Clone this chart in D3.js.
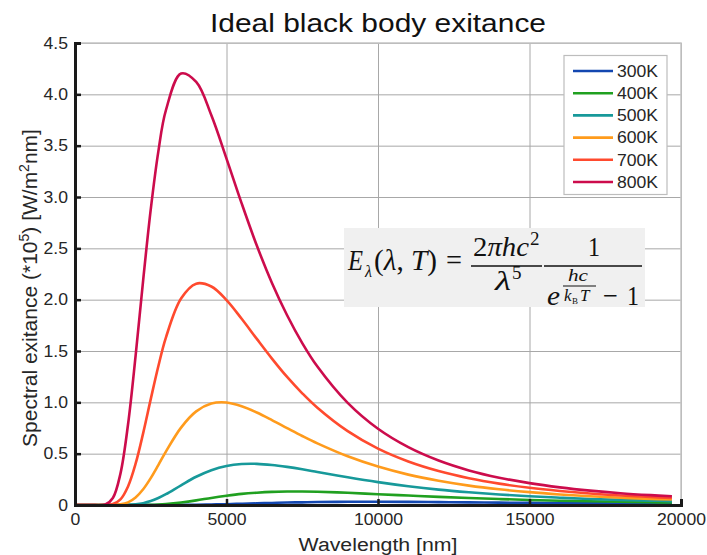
<!DOCTYPE html>
<html>
<head>
<meta charset="utf-8">
<script src="https://cdn.jsdelivr.net/npm/d3@7"></script>
<style>
  body { margin: 0; background: #fff; }
  svg text { font-family: "Liberation Sans", Arial, sans-serif; fill: #262626; }
  .grid line { stroke: #a8a8a8; stroke-width: 1; }
  .grid path { display: none; }
  .axis path { stroke: #1a1a1a; stroke-width: 3; }
  .axis line { stroke: #1a1a1a; stroke-width: 2.5; }
  .math text { font-family: "Liberation Serif", "DejaVu Serif", serif; fill: #111; }
</style>
</head>
<body>
<svg id="chart" width="707" height="555"></svg>
<script>
// 波長のサンプル点 [nm]
const wavelengths = [0, 500, 1000, 1250, 1500, 1750, 2000, 2250, 2500, 2750, 3000,
  3500, 4000, 4500, 5000, 5500, 6000, 6500, 7000, 7500, 8000,
  9000, 10000, 11000, 12000, 13000, 14000, 15000, 16000, 17000, 18000, 19000, 19700];

// 各温度の放射発散度
const exitance300 = [0, 0, 0, 0, 0, 0, 0, 0, 0, 0, 0,
  0.001, 0.002, 0.005, 0.008, 0.012, 0.016, 0.020, 0.024, 0.026, 0.029,
  0.031, 0.031, 0.030, 0.028, 0.026, 0.023, 0.021, 0.019, 0.017, 0.015, 0.013, 0.012];
const exitance400 = [0, 0, 0, 0, 0, 0, 0, 0.001, 0.002, 0.005, 0.010,
  0.025, 0.045, 0.069, 0.090, 0.108, 0.120, 0.128, 0.131, 0.131, 0.129,
  0.119, 0.105, 0.092, 0.079, 0.068, 0.058, 0.049, 0.042, 0.036, 0.031, 0.027, 0.024];
const exitance500 = [0, 0, 0, 0, 0, 0.002, 0.007, 0.018, 0.038, 0.068, 0.105,
  0.192, 0.275, 0.339, 0.380, 0.399, 0.401, 0.390, 0.371, 0.348, 0.322,
  0.270, 0.223, 0.183, 0.150, 0.124, 0.102, 0.085, 0.071, 0.059, 0.050, 0.043, 0.038];
const exitance600 = [0, 0, 0, 0, 0.006, 0.026, 0.073, 0.153, 0.262, 0.389, 0.520,
  0.754, 0.912, 0.988, 0.998, 0.962, 0.901, 0.827, 0.749, 0.672, 0.600,
  0.474, 0.374, 0.296, 0.236, 0.189, 0.153, 0.125, 0.103, 0.085, 0.071, 0.060, 0.053];
const exitance700 = [0, 0, 0, 0.009, 0.055, 0.181, 0.402, 0.700, 1.031, 1.351, 1.631,
  2.011, 2.156, 2.128, 1.996, 1.814, 1.618, 1.426, 1.247, 1.088, 0.947,
  0.719, 0.549, 0.424, 0.331, 0.261, 0.208, 0.168, 0.137, 0.112, 0.093, 0.078, 0.069];
const exitance800 = [0, 0, 0.006, 0.069, 0.306, 0.784, 1.453, 2.191, 2.879, 3.442, 3.845,
  4.203, 4.121, 3.796, 3.374, 2.938, 2.527, 2.163, 1.848, 1.577, 1.348,
  0.994, 0.742, 0.563, 0.433, 0.337, 0.266, 0.213, 0.172, 0.140, 0.115, 0.096, 0.085];

const seriesNames = ["300K", "400K", "500K", "600K", "700K", "800K"];
const seriesValues = [exitance300, exitance400, exitance500, exitance600, exitance700, exitance800];
const seriesColors = ["#1347b0", "#20a020", "#17999a", "#ff9b1c", "#ff4a2e", "#cc0c4c"];

// 目盛り
const xTicks = [0, 5000, 10000, 15000, 20000];
const xTickLabels = ["0", "5000", "10000", "15000", "20000"];
const yTicks = [0, 0.5, 1, 1.5, 2, 2.5, 3, 3.5, 4, 4.5];
const yTickLabels = ["0", "0.5", "1.0", "1.5", "2.0", "2.5", "3.0", "3.5", "4.0", "4.5"];

const svg = d3.select("#chart");
const plotLeft = 75, plotTop = 43, plotRight = 681, plotBottom = 505;
const plotW = plotRight - plotLeft, plotH = plotBottom - plotTop;
const stretch = 1.1; // 元画像は文字が少し横長

const x = d3.scaleLinear().domain([0, 20000]).range([plotLeft, plotRight]);
const y = d3.scaleLinear().domain([0, 4.5]).range([plotBottom, plotTop]);

// タイトル
svg.append("text")
  .attr("x", (plotLeft + plotRight) / 2).attr("y", 32)
  .attr("text-anchor", "middle")
  .attr("font-size", 26)
  .attr("textLength", 336).attr("lengthAdjust", "spacingAndGlyphs")
  .style("fill", "#111")
  .text("Ideal black body exitance");

// 罫線
svg.append("g").attr("class", "grid")
  .attr("transform", `translate(0,${plotBottom})`)
  .call(d3.axisBottom(x).tickValues(xTicks).tickSize(-plotH).tickFormat(""));
svg.append("g").attr("class", "grid")
  .attr("transform", `translate(${plotLeft},0)`)
  .call(d3.axisLeft(y).tickValues(yTicks).tickSize(-plotW).tickFormat(""));

// 上と右の枠
svg.append("path")
  .attr("d", `M${plotLeft},${plotTop}H${plotRight}V${plotBottom}`)
  .attr("fill", "none").attr("stroke", "#c4c4c4").attr("stroke-width", 1.5);

// 折れ線
svg.append("clipPath").attr("id", "plot-clip")
  .append("rect").attr("x", plotLeft).attr("y", plotTop - 2)
  .attr("width", plotW).attr("height", plotH + 2);

const lineFunc = d3.line()
  .x((d, i) => x(wavelengths[i]))
  .y(d => y(d))
  .curve(d3.curveCatmullRom.alpha(0.5));

svg.append("g").attr("clip-path", "url(#plot-clip)")
  .selectAll("path")
  .data(seriesValues)
  .join("path")
  .attr("d", lineFunc)
  .attr("fill", "none")
  .attr("stroke", (d, i) => seriesColors[i])
  .attr("stroke-width", 2.6)
  .attr("stroke-linejoin", "round");

// 軸
const xAxis = svg.append("g").attr("class", "axis")
  .attr("transform", `translate(0,${plotBottom})`)
  .call(d3.axisBottom(x).tickValues(xTicks).tickSize(-6).tickSizeOuter(-6).tickPadding(9)
    .tickFormat((d, i) => xTickLabels[i]));
const yAxis = svg.append("g").attr("class", "axis")
  .attr("transform", `translate(${plotLeft},0)`)
  .call(d3.axisLeft(y).tickValues(yTicks).tickSize(-6).tickSizeOuter(-6).tickPadding(7)
    .tickFormat((d, i) => yTickLabels[i]));
[xAxis, yAxis].forEach(ax => {
  ax.selectAll("text")
    .attr("font-size", 16)
    .style("font-family", '"Liberation Sans", Arial, sans-serif')
    .style("fill", "#262626")
    .attr("transform", `scale(${stretch},1)`);
});
yAxis.selectAll(".tick text").attr("x", -7 / stretch);

// 軸ラベル
svg.append("text")
  .attr("transform", `translate(${(plotLeft + plotRight) / 2},551) scale(1.12,1)`)
  .attr("text-anchor", "middle")
  .attr("font-size", 19)
  .text("Wavelength [nm]");

const yLabel = svg.append("text")
  .attr("transform", `translate(37,${(plotTop + plotBottom) / 2 + 14}) rotate(-90)`)
  .attr("text-anchor", "middle")
  .attr("font-size", 21);
yLabel.append("tspan").text("Spectral exitance (*10");
yLabel.append("tspan").attr("dy", -8).attr("font-size", 14).text("5");
yLabel.append("tspan").attr("dy", 8).text(") [W/m");
yLabel.append("tspan").attr("dy", -8).attr("font-size", 14).text("2");
yLabel.append("tspan").attr("dy", 8).text("nm]");

// 数式
const math = svg.append("g").attr("class", "math");
math.append("rect")
  .attr("x", 344).attr("y", 228).attr("width", 301).attr("height", 79)
  .attr("fill", "#f0f0f0");

function put(txt, px, py, size, italic, len) {
  const t = math.append("text")
    .attr("x", px).attr("y", py)
    .attr("font-size", size)
    .style("font-style", italic ? "italic" : "normal")
    .text(txt);
  if (len) t.attr("textLength", len).attr("lengthAdjust", "spacingAndGlyphs");
  return t;
}
put("E", 348, 270, 30, true, 15);
put("λ", 365, 277, 17, true, 7);
const args = math.append("text").attr("x", 374).attr("y", 270).attr("font-size", 30)
  .attr("textLength", 63).attr("lengthAdjust", "spacingAndGlyphs");
args.append("tspan").text("(");
args.append("tspan").style("font-style", "italic").text("λ");
args.append("tspan").text(", ");
args.append("tspan").style("font-style", "italic").text("T");
args.append("tspan").text(")");
put("=", 446, 270, 30, false, 16);

math.append("line").attr("x1", 471).attr("x2", 542).attr("y1", 266).attr("y2", 266)
  .attr("stroke", "#111").attr("stroke-width", 1.6);
const num = math.append("text").attr("x", 473).attr("y", 256).attr("font-size", 28)
  .attr("textLength", 56).attr("lengthAdjust", "spacingAndGlyphs");
num.append("tspan").text("2");
num.append("tspan").style("font-style", "italic").text("πhc");
put("2", 530, 245, 19, false);
put("λ", 495, 290, 28, true, 16);
put("5", 512, 279, 19, false);

math.append("line").attr("x1", 544).attr("x2", 642).attr("y1", 266).attr("y2", 266)
  .attr("stroke", "#111").attr("stroke-width", 1.6);
put("1", 588, 256, 28, false, 12);
put("e", 547, 305, 28, true, 13);
put("hc", 568, 281, 17, true, 20);
math.append("line").attr("x1", 563).attr("x2", 596).attr("y1", 286).attr("y2", 286)
  .attr("stroke", "#111").attr("stroke-width", 1);
put("k", 564, 301, 17, true);
put("B", 572, 304, 9, false);
put("T", 580, 301, 17, true);
put("−", 603, 305, 28, false, 15);
put("1", 627, 305, 28, false, 12);

// 凡例
const legend = svg.append("g");
legend.append("rect")
  .attr("x", 564).attr("y", 55.5).attr("width", 103).attr("height", 139)
  .attr("fill", "#fff").attr("stroke", "#bdbdbd").attr("stroke-width", 1.2);
const item = legend.selectAll("g.item")
  .data(seriesNames)
  .join("g").attr("class", "item")
  .attr("transform", (d, i) => `translate(0,${71 + i * 22.2})`);
item.append("line")
  .attr("x1", 573).attr("x2", 613)
  .attr("stroke", (d, i) => seriesColors[i]).attr("stroke-width", 2.6);
item.append("text")
  .attr("transform", `translate(617,0) scale(${stretch},1)`)
  .attr("dy", "0.36em")
  .attr("font-size", 16)
  .text(d => d);
</script>
</body>
</html>
